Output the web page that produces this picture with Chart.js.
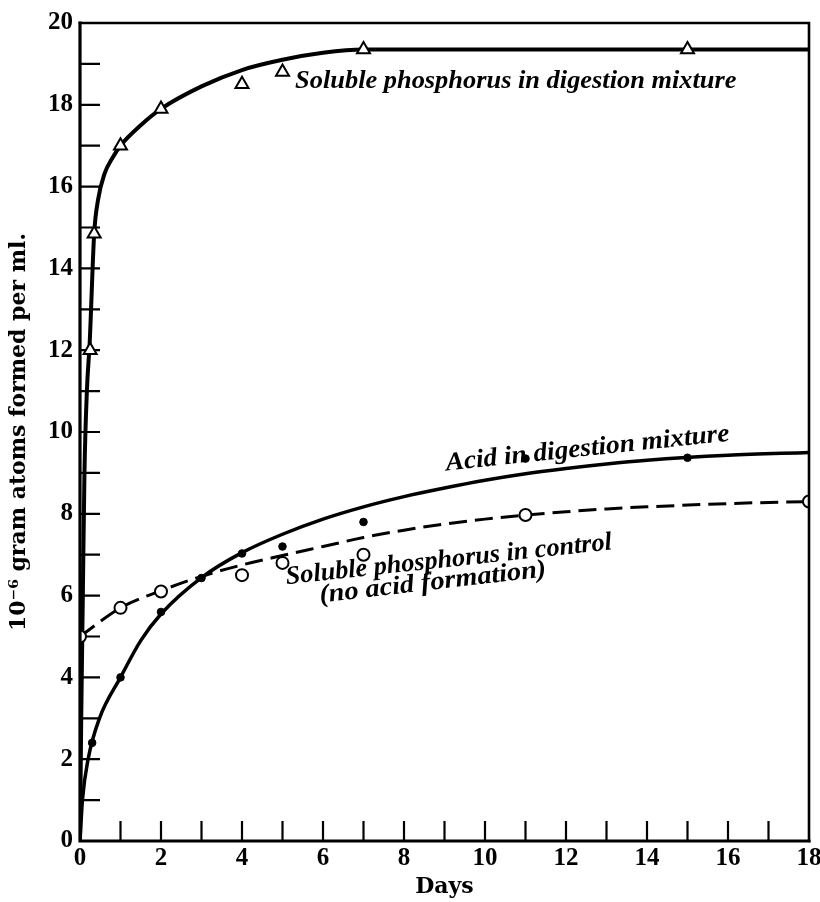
<!DOCTYPE html>
<html>
<head>
<meta charset="utf-8">
<script src="https://cdn.jsdelivr.net/npm/chart.js@4.4.1/dist/chart.umd.min.js"></script>
<style>
  html, body { margin: 0; padding: 0; background: #fff; }
  #wrap { width: 820px; height: 902px; }
</style>
</head>
<body>
<div id="wrap"><canvas id="myChart" width="820" height="902"></canvas></div>
<script>
// measured points (days, 10^-6 gram atoms per ml)
const triDays = [0.25, 0.35, 1, 2, 4, 5, 7, 15];
const triValues = [12.0, 14.85, 17.0, 17.9, 18.5, 18.8, 19.35, 19.35];

const acidDays = [0.3, 1, 2, 3, 4, 5, 7, 11, 15];
const acidValues = [2.4, 4.0, 5.6, 6.43, 7.03, 7.2, 7.8, 9.35, 9.37];

const ctrlDays = [0, 1, 2, 4, 5, 7, 11, 18];
const ctrlValues = [5.0, 5.7, 6.1, 6.5, 6.8, 7.0, 7.97, 8.3];

// smooth curves as drawn in the figure
const triCurveDays = [0, 0.03, 0.07, 0.11, 0.17, 0.24, 0.35, 0.45, 0.6, 0.8, 1, 1.5, 2, 3, 4, 5, 6, 7, 10, 14, 18];
const triCurveValues = [0, 3, 6, 9, 11, 12.2, 14.85, 15.7, 16.3, 16.7, 17.0, 17.5, 17.9, 18.45, 18.85, 19.1, 19.27, 19.35, 19.35, 19.35, 19.35];

const acidCurveDays = [0, 0.06, 0.2, 0.48, 1, 1.5, 2, 3, 4, 5, 6, 7, 8, 9, 10, 11, 12, 13, 14, 16, 18];
const acidCurveValues = [0, 1, 2, 3, 4, 4.9, 5.55, 6.44, 7.05, 7.5, 7.87, 8.17, 8.42, 8.63, 8.82, 8.98, 9.11, 9.22, 9.31, 9.43, 9.5];

const ctrlCurveDays = [0, 1, 2, 3, 4, 5, 6, 7, 8, 9, 10, 11, 12, 13, 14, 16, 18];
const ctrlCurveValues = [5.0, 5.7, 6.12, 6.47, 6.75, 6.98, 7.2, 7.42, 7.6, 7.75, 7.87, 7.97, 8.05, 8.12, 8.17, 8.25, 8.3];

const xTitle = 'Days';
const yTitle = '10\u207B\u2076 gram atoms formed per ml.';

// curve labels: text, anchor (day, value), span in days, angle in degrees
const curveLabels = [
  { text: 'Soluble phosphorus in digestion mixture', day: 5.31, value: 18.41, span: 10.9, angle: 0 },
  { text: 'Acid in digestion mixture', day: 9.05, value: 9.06, span: 7.0, angle: -6.0 },
  { text: 'Soluble phosphorus in control', day: 5.1, value: 6.28, span: 8.05, angle: -6.1 },
  { text: '(no acid formation)', day: 5.93, value: 5.83, span: 5.6, angle: -6.6 }
];

function pairs(xs, ys) {
  return xs.map((x, i) => ({ x: x, y: ys[i] }));
}

const tickFont = { family: '"Liberation Serif", serif', size: 25, weight: 'bold' };
const titleFont = { family: '"DejaVu Serif", serif', size: 22, weight: 'bold' };

const figurePlugin = {
  id: 'figurePlugin',
  beforeDatasetsDraw(chart) {
    const ctx = chart.ctx;
    const xs = chart.scales.x;
    const ys = chart.scales.y;
    const a = chart.chartArea;
    ctx.save();
    ctx.strokeStyle = '#000';
    ctx.lineWidth = 2.2;
    ctx.beginPath();
    xs.ticks.forEach(t => {
      if (t.value <= xs.min || t.value >= xs.max) return;
      const px = xs.getPixelForValue(t.value);
      ctx.moveTo(px, a.bottom);
      ctx.lineTo(px, a.bottom - 20);
    });
    ys.ticks.forEach(t => {
      if (t.value <= ys.min || t.value >= ys.max) return;
      const py = ys.getPixelForValue(t.value);
      ctx.moveTo(a.left, py);
      ctx.lineTo(a.left + 20, py);
    });
    ctx.stroke();
    ctx.restore();
  },
  afterDatasetsDraw(chart) {
    const ctx = chart.ctx;
    const xs = chart.scales.x;
    const ys = chart.scales.y;
    const a = chart.chartArea;
    ctx.save();
    ctx.strokeStyle = '#000';
    ctx.lineCap = 'square';
    ctx.lineWidth = 3.2;
    ctx.beginPath();
    ctx.moveTo(a.left, a.top);
    ctx.lineTo(a.left, a.bottom);
    ctx.lineTo(a.right, a.bottom);
    ctx.stroke();
    ctx.lineWidth = 2.6;
    ctx.beginPath();
    ctx.moveTo(a.left, a.top);
    ctx.lineTo(a.right, a.top);
    ctx.lineTo(a.right, a.bottom);
    ctx.stroke();

    ctx.fillStyle = '#000';
    ctx.font = 'italic bold 26px "Liberation Serif", serif';
    ctx.textBaseline = 'alphabetic';
    curveLabels.forEach(l => {
      const px = xs.getPixelForValue(l.day);
      const py = ys.getPixelForValue(l.value);
      const rad = l.angle * Math.PI / 180;
      const target = (xs.getPixelForValue(l.day + l.span) - px) / Math.cos(rad);
      const w = ctx.measureText(l.text).width;
      ctx.save();
      ctx.translate(px, py);
      ctx.rotate(rad);
      ctx.scale(target / w, 1);
      ctx.fillText(l.text, 0, 0);
      ctx.restore();
    });
    ctx.restore();
  }
};

const ctx = document.getElementById('myChart').getContext('2d');
const myChart = new Chart(ctx, {
  type: 'scatter',
  data: {
    datasets: [
      {
        label: 'Soluble phosphorus in digestion mixture',
        data: pairs(triDays, triValues),
        pointStyle: 'triangle',
        pointRadius: 7.5,
        pointBackgroundColor: '#fff',
        pointBorderColor: '#000',
        pointBorderWidth: 2,
        order: 0
      },
      {
        label: 'Acid in digestion mixture',
        data: pairs(acidDays, acidValues),
        pointStyle: 'circle',
        pointRadius: 3.8,
        pointBackgroundColor: '#000',
        pointBorderColor: '#000',
        pointBorderWidth: 1,
        order: 0
      },
      {
        label: 'Soluble phosphorus in control',
        data: pairs(ctrlDays, ctrlValues),
        pointStyle: 'circle',
        pointRadius: 6,
        pointBackgroundColor: '#fff',
        pointBorderColor: '#000',
        pointBorderWidth: 2,
        order: 0
      },
      {
        label: 'curve digestion P',
        data: pairs(triCurveDays, triCurveValues),
        showLine: true,
        pointRadius: 0,
        borderColor: '#000',
        borderWidth: 4,
        cubicInterpolationMode: 'monotone',
        order: 1
      },
      {
        label: 'curve acid',
        data: pairs(acidCurveDays, acidCurveValues),
        showLine: true,
        pointRadius: 0,
        borderColor: '#000',
        borderWidth: 3.5,
        cubicInterpolationMode: 'monotone',
        order: 1
      },
      {
        label: 'curve control',
        data: pairs(ctrlCurveDays, ctrlCurveValues),
        showLine: true,
        pointRadius: 0,
        borderColor: '#000',
        borderWidth: 3,
        borderDash: [18, 8],
        cubicInterpolationMode: 'monotone',
        order: 1
      }
    ]
  },
  options: {
    responsive: false,
    animation: false,
    layout: { padding: { top: 23, right: 11, left: 0, bottom: 0 } },
    plugins: {
      legend: { display: false },
      tooltip: { enabled: false }
    },
    scales: {
      x: {
        type: 'linear',
        min: 0,
        max: 18,
        grid: { display: false, drawTicks: false },
        border: { display: false },
        ticks: {
          stepSize: 1,
          autoSkip: false,
          maxRotation: 0,
          padding: 3,
          color: '#000',
          font: tickFont,
          callback: v => (v % 2 === 0 ? v : '')
        },
        title: {
          display: true,
          text: xTitle,
          color: '#000',
          font: titleFont,
          padding: { top: 0, bottom: 2 }
        },
        afterFit: s => { s.height = 61; s.paddingLeft = 0; s.paddingRight = 0; }
      },
      y: {
        type: 'linear',
        min: 0,
        max: 20,
        grid: { display: false, drawTicks: false },
        border: { display: false },
        ticks: {
          stepSize: 1,
          autoSkip: false,
          padding: 7,
          color: '#000',
          font: tickFont,
          callback: v => (v % 2 === 0 ? v : '')
        },
        title: {
          display: true,
          text: yTitle,
          color: '#000',
          font: titleFont,
          padding: { top: 6, bottom: 0 }
        },
        afterFit: s => { s.width = 80; s.paddingTop = 0; s.paddingBottom = 0; }
      }
    }
  },
  plugins: [figurePlugin]
});
</script>
</body>
</html>
